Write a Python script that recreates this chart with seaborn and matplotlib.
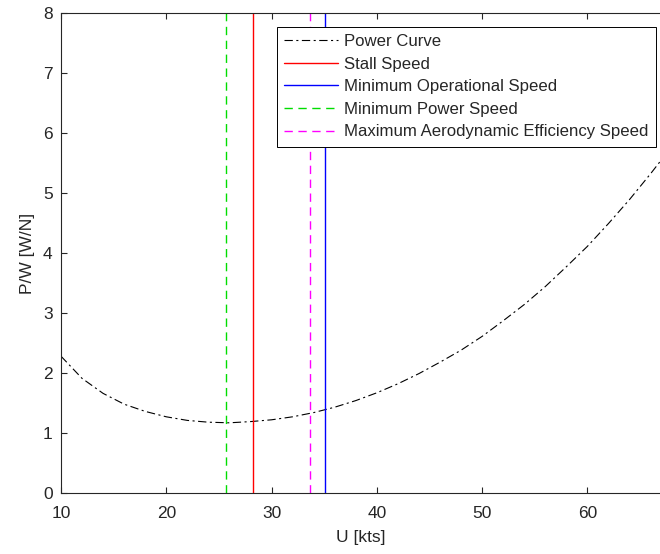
import numpy as np
import pandas as pd
import seaborn as sns
import matplotlib
matplotlib.use("Agg")
import matplotlib.pyplot as plt

# power curve
speed_kts = [10, 12, 14, 16, 18, 20, 22, 24, 26, 28, 30, 32, 34, 36, 38, 40,
             42, 44, 46, 48, 50, 52, 54, 56, 58, 60, 62, 64, 66, 68]
power_per_weight = [2.28, 1.91, 1.66, 1.48, 1.36, 1.27, 1.21, 1.18, 1.17, 1.19,
                    1.22, 1.27, 1.34, 1.43, 1.54, 1.67, 1.82, 1.99, 2.18, 2.38,
                    2.61, 2.87, 3.14, 3.44, 3.77, 4.11, 4.49, 4.89, 5.32, 5.77]

# characteristic speeds [kts]
stall_speed = 28.2
min_oper_speed = 35.1
min_power_speed = 25.7
max_eff_speed = 33.7

df = pd.DataFrame({"U": speed_kts, "PW": power_per_weight})

sns.set_theme(style="ticks")
plt.rcParams["font.family"] = ["Liberation Sans", "DejaVu Sans"]
plt.rcParams["lines.scale_dashes"] = False

fig = plt.figure(figsize=(6.6, 5.54), dpi=100)
ax = fig.add_axes([61 / 660, 61 / 554, 599 / 660, 480 / 554])

sns.lineplot(data=df, x="U", y="PW", ax=ax, color="black", linewidth=0.8,
             linestyle=(0, (6, 2.5, 1.5, 2.5)), label="Power Curve")
ax.axvline(stall_speed, color="#ff0000", linestyle="-", linewidth=1.0,
           label="Stall Speed")
ax.axvline(min_oper_speed, color="#0000ff", linestyle="-", linewidth=1.0,
           label="Minimum Operational Speed")
ax.axvline(min_power_speed, color="#00dd00", linewidth=1.0,
           linestyle=(0, (6, 4)), label="Minimum Power Speed")
ax.axvline(max_eff_speed, color="#ff00ff", linewidth=1.0,
           linestyle=(0, (6, 4)), label="Maximum Aerodynamic Efficiency Speed")

ax.set_xlim(10, 66.9)
ax.set_ylim(0, 8)
ax.set_xticks([10, 20, 30, 40, 50, 60])
ax.set_yticks(range(0, 9))
ax.set_xlabel("U [kts]", fontsize=12.5, color="#262626", labelpad=7)
ax.set_ylabel("P/W [W/N]", fontsize=12.5, color="#262626", labelpad=6)

for side in ["left", "bottom", "top"]:
    ax.spines[side].set_color("#262626")
    ax.spines[side].set_linewidth(0.8)
ax.spines["right"].set_visible(False)
ax.tick_params(direction="in", length=4, width=0.8, color="#262626",
               labelcolor="#262626", labelsize=12.5, top=True, right=False)
ax.tick_params(axis="x", pad=9)
ax.tick_params(axis="y", pad=6)

leg = ax.legend(loc="upper right", bbox_to_anchor=(0.9933, 0.9715),
                borderaxespad=0, fontsize=12.1, handlelength=3.2,
                handletextpad=0.35, labelspacing=0.45, borderpad=0.45,
                fancybox=False, framealpha=1, edgecolor="black")
leg.get_frame().set_linewidth(0.7)

fig.savefig("out.png", dpi=100)
